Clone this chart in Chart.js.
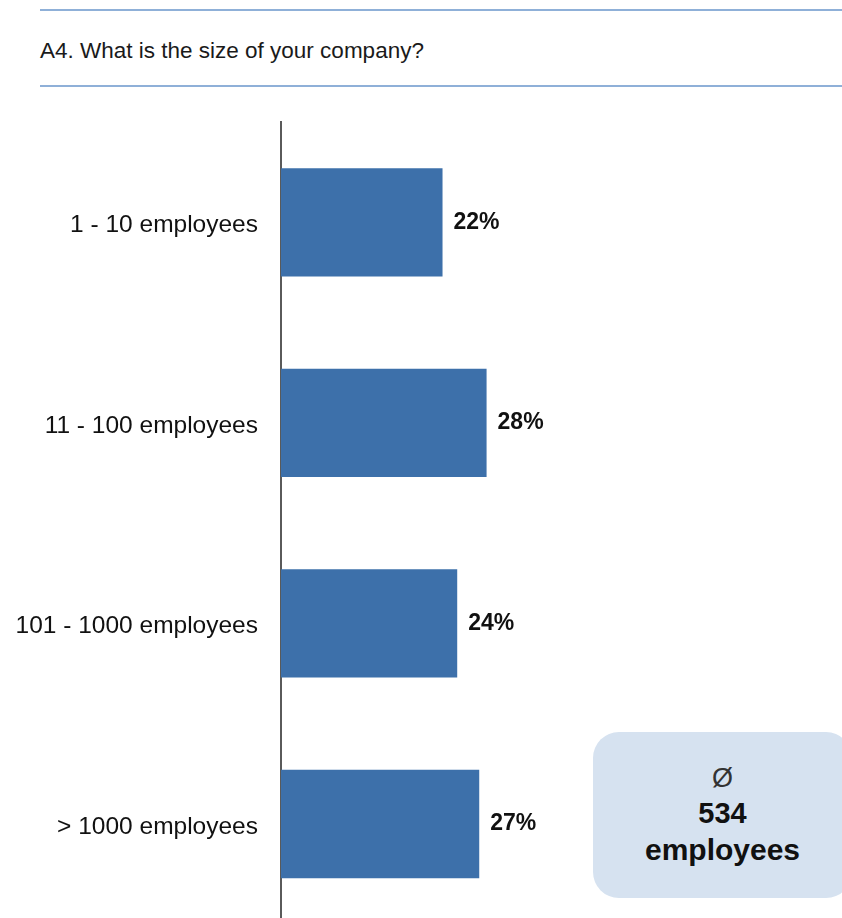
<!DOCTYPE html>
<html>
<head>
<meta charset="utf-8">
<title>A4. What is the size of your company?</title>
<script src="https://cdn.jsdelivr.net/npm/chart.js@4/dist/chart.umd.min.js"></script>
<style>
  html, body { margin: 0; padding: 0; background: #fff; overflow: hidden; }
  body { width: 842px; height: 918px; position: relative; font-family: "Liberation Sans", Arial, sans-serif; }
  .rule { position: absolute; left: 40px; right: 0; height: 2px; background: #8fb0d8; }
  #question { position: absolute; left: 40px; top: 38px; font-size: 22.5px; color: #1a1a1a; white-space: nowrap; }
  #chart-wrap { position: absolute; left: 0; top: 0; }
  #avg-box {
    position: absolute; left: 593px; top: 732px; width: 259px; height: 166px;
    background: #d6e2f0; border-radius: 26px; text-align: center; color: #111;
  }
  #avg-box .sym { margin-top: 31px; font-size: 27px; line-height: 30px; color: #333; }
  #avg-box .num { margin-top: 2px; font-size: 29px; font-weight: bold; line-height: 36px; }
  #avg-box .unit { font-size: 30px; font-weight: bold; line-height: 38px; }
</style>
</head>
<body>
<div class="rule" style="top: 9px;"></div>
<div id="question">A4. What is the size of your company?</div>
<div class="rule" style="top: 85px;"></div>

<div id="chart-wrap">
  <canvas id="sizeChart" width="842" height="962"></canvas>
</div>

<div id="avg-box">
  <div class="sym">Ø</div>
  <div class="num">534</div>
  <div class="unit">employees</div>
</div>

<script>
const categories = ['1 - 10 employees', '11 - 100 employees', '101 - 1000 employees', '> 1000 employees'];
const shares = [22, 28, 24, 27];

// writes the percentage just right of each bar
const barValueLabels = {
  id: 'barValueLabels',
  afterDatasetsDraw(chart) {
    const { ctx } = chart;
    const meta = chart.getDatasetMeta(0);
    ctx.save();
    ctx.font = 'bold 23px "Liberation Sans", Arial, sans-serif';
    ctx.fillStyle = '#111';
    ctx.textAlign = 'left';
    ctx.textBaseline = 'middle';
    meta.data.forEach((bar, i) => {
      ctx.fillText(shares[i] + '%', bar.x + 11, bar.y);
    });
    ctx.restore();
  }
};

const ctx = document.getElementById('sizeChart').getContext('2d');
new Chart(ctx, {
  type: 'bar',
  data: {
    labels: categories,
    datasets: [{
      data: shares,
      backgroundColor: '#3d70aa',
      borderWidth: 0,
      categoryPercentage: 1,
      barPercentage: 0.54
    }]
  },
  options: {
    indexAxis: 'y',
    responsive: false,
    animation: false,
    devicePixelRatio: 1,
    layout: { padding: { top: 122, right: 3, bottom: 0, left: 0 } },
    plugins: {
      legend: { display: false },
      tooltip: { enabled: false }
    },
    scales: {
      x: {
        display: false,
        min: 0,
        max: 76
      },
      y: {
        afterFit(scale) { scale.width = 281; },
        grid: { display: false, drawTicks: false },
        border: { display: true, color: '#5a5a5a', width: 2 },
        ticks: {
          padding: 23,
          labelOffset: 3,
          color: '#111',
          font: { family: '"Liberation Sans", Arial, sans-serif', size: 24.5 }
        }
      }
    }
  },
  plugins: [barValueLabels]
});
</script>
</body>
</html>
